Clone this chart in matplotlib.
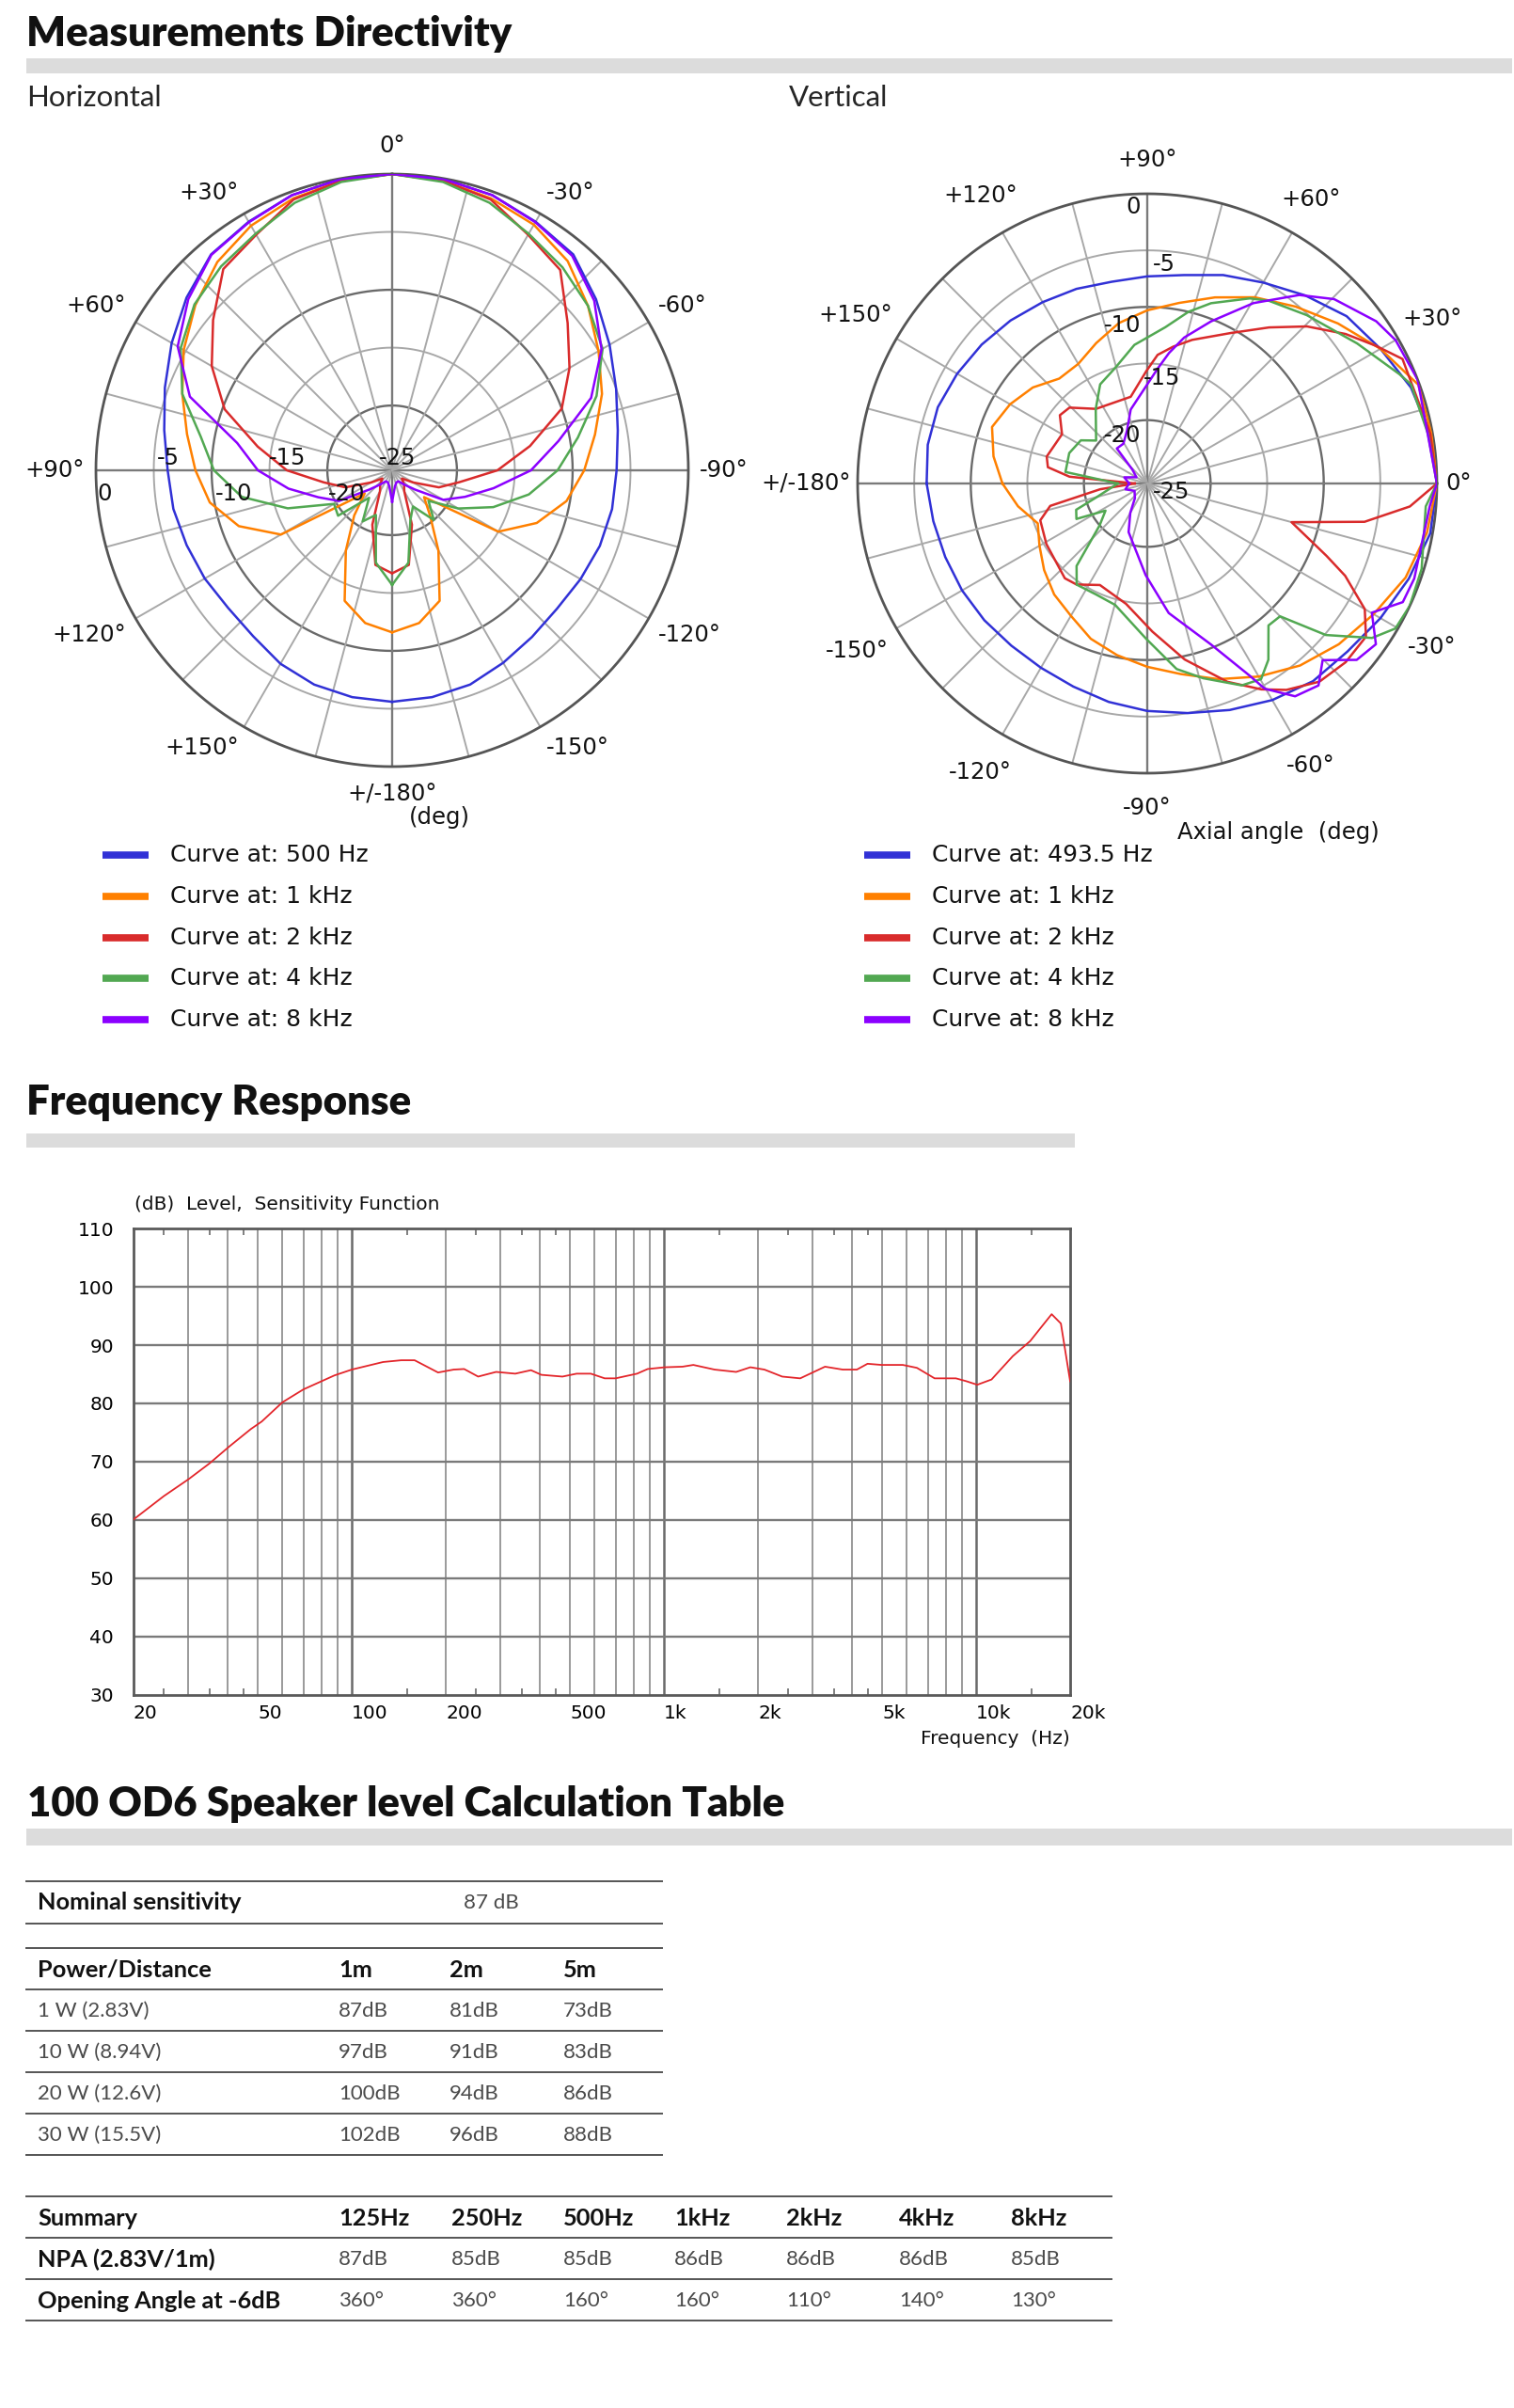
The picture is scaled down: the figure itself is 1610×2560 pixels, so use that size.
import numpy as np
import matplotlib.pyplot as plt
from matplotlib.lines import Line2D
from matplotlib.patches import Rectangle
from matplotlib.ticker import NullFormatter

W, H = 1610, 2560
fig = plt.figure(figsize=(W / 100, H / 100), dpi=100)
fig.patch.set_facecolor("white")


def fx(x):
    return x / W


def fy(y):
    return 1 - y / H


# ---------------- data ----------------
curve_colors = ["#3131d6", "#ff8000", "#d92b2b", "#52a852", "#8b00ff"]
labels_h = ["Curve at: 500 Hz", "Curve at: 1 kHz", "Curve at: 2 kHz",
            "Curve at: 4 kHz", "Curve at: 8 kHz"]
labels_v = ["Curve at: 493.5 Hz", "Curve at: 1 kHz", "Curve at: 2 kHz",
            "Curve at: 4 kHz", "Curve at: 8 kHz"]

# horizontal directivity, angle in deg (+ = left), level in dB
h_angles = [-180, -170, -160, -150, -140, -130, -120, -110, -100, -90, -80, -70,
            -60, -50, -40, -30, -20, -10, 0, 10, 20, 30, 40, 50, 60, 70, 80, 90,
            100, 110, 120, 130, 140, 150, 160, 170, 180]
h_500 = [-5.6, -5.7, -5.9, -6.4, -6.8, -7.0, -6.8, -6.5, -6.3, -6.2, -5.8, -5.0,
         -3.9, -2.6, -1.25, -0.8, -0.3, -0.05, 0.0, -0.05, -0.3, -0.8, -1.25, -2.4,
         -3.6, -4.7, -5.6, -6.2, -6.4, -6.7, -6.9, -7.1, -6.9, -6.3, -5.9, -5.7, -5.6]
h_1k = [-11.6, -12.2, -13.6, -17.6, -20.5, -22.0, -15.0, -12.3, -10.3, -9.0, -7.8, -6.3,
        -5.0, -3.5, -2.0, -1.1, -0.6, -0.2, 0.0, -0.2, -0.6, -1.2, -2.1, -3.4,
        -4.8, -6.3, -7.6, -8.6, -9.6, -11.5, -14.5, -22.5, -20.5, -17.6, -13.6, -12.2, -11.6]
h_2k = [-16.7, -17.3, -20.6, -23.5, -24.0, -24.5, -23.5, -21.3, -19.7, -16.5, -13.5, -10.0,
        -7.9, -5.8, -3.0, -2.1, -0.7, -0.2, 0.0, -0.2, -0.7, -2.1, -2.9, -5.4,
        -7.6, -10.2, -13.8, -16.5, -19.6, -21.3, -23.5, -24.5, -24.0, -23.5, -20.6, -17.3, -16.7]
h_4k = [-15.7, -17.5, -21.0, -22.0, -20.0, -21.5, -19.0, -16.3, -13.6, -11.3, -9.3, -6.8,
        -4.6, -3.5, -2.7, -2.0, -1.0, -0.3, 0.0, -0.3, -1.0, -2.0, -2.6, -3.3,
        -4.5, -6.3, -8.8, -10.2, -12.4, -16.0, -19.8, -19.5, -22.5, -20.5, -21.5, -17.5, -15.7]
h_8k = [-22.9, -24.2, -24.5, -24.5, -24.0, -23.0, -20.5, -18.9, -16.7, -13.6, -11.0, -7.3,
        -4.7, -2.8, -1.4, -0.85, -0.3, -0.05, 0.0, -0.05, -0.3, -0.85, -1.3, -2.6,
        -4.2, -7.0, -12.0, -14.0, -16.5, -18.8, -20.3, -23.0, -24.0, -24.5, -24.5, -24.2, -22.9]
h_curves = [h_500, h_1k, h_2k, h_4k, h_8k]

# vertical directivity, angle in deg (0 = axis, +90 = up), level in dB
v_ang_500 = h_angles
v_500 = [-6.1, -6.4, -6.6, -6.7, -6.8, -6.9, -6.8, -6.5, -6.0, -5.5, -5.0, -4.3,
         -3.5, -2.8, -2.5, -1.8, -1.0, -0.2, 0.0, -0.2, -0.8, -1.8, -2.6, -3.9,
         -5.1, -6.0, -6.9, -7.3, -7.5, -7.3, -7.1, -6.8, -6.5, -6.2, -5.9, -5.9, -6.1]
v_ang_1k = h_angles
v_1k = [-12.8, -14.0, -15.3, -14.6, -13.7, -12.8, -12.1, -11.0, -10.2, -9.4, -8.5, -7.2,
        -5.9, -4.6, -3.5, -2.5, -1.3, -0.5, 0.0, -0.1, -0.1, -1.8, -3.6, -5.2,
        -6.6, -8.1, -9.4, -10.3, -11.2, -12.4, -13.4, -13.5, -12.4, -11.6, -11.0, -11.8, -12.8]
v_ang_2k = [-180, -173, -167, -161, -149, -131, -125, -115, -100, -88, -78, -68, -61, -56,
            -49, -42, -35, -30, -25, -22, -15, -10, -5, 0, 10, 26, 31, 37, 44.5, 52, 61,
            72.6, 79.3, 85.4, 90.6, 100.8, 124.5, 135.7, 142, 150, 165, 170.7, 175, 180]
v_2k = [-24.5, -21.4, -16.8, -15.6, -15.2, -14.5, -14.7, -15.7, -14.8, -12.5, -9.7, -6.7,
        -4.8, -3.6, -2.4, -2.0, -2.0, -3.4, -6.3, -8.5, -12.4, -6.1, -2.3, 0.0, -0.2,
        -0.5, -2.0, -3.65, -5.8, -8.1, -10.4, -12.3, -13.3, -14.2, -15.7, -17.8, -17.6,
        -16.0, -15.8, -16.9, -16.4, -16.7, -18.7, -24.5]
v_ang_4k = [-180, -165, -159.7, -153.4, -147, -138.7, -130.6, -124.9, -114.9, -104.8, -90.5,
            -81, -74, -64.9, -59.8, -55.5, -49.5, -45, -40.3, -34.5, -30.3, -25, -17.3,
            -4.7, 0, 10, 20.6, 23.4, 33.7, 46.5, 56.3, 61, 70.5, 76.5, 83.4, 95.3, 105.5,
            115.4, 124.7, 140, 147, 158.7, 172, 180]
v_4k = [-23.0, -21.0, -18.9, -18.6, -21.2, -20.0, -16.0, -14.7, -14.8, -14.5, -11.9,
        -9.0, -7.7, -5.9, -5.6, -6.7, -9.1, -9.0, -4.9, -1.5, -0.2, 0.0, -0.2,
        -0.9, 0.0, -0.4, -0.7, -1.3, -3.3, -5.1, -6.2, -6.9, -8.7, -10.0, -11.7, -13.3, -15.0,
        -15.9, -17.6, -19.7, -18.6, -18.2, -18.3, -23.0]
v_ang_8k = [-180, -165, -150, -130, -120, -111, -91, -80.6, -68.4, -62, -60.2, -55.2, -49.7,
            -45.2, -40.1, -35.1, -29.9, -24.9, -19.6, -4.6, 0, 21, 30, 35.3, 44.6, 51.1,
            59.5, 68.5, 75.8, 80.5, 84.8, 102.6, 111, 121, 131, 137, 150, 165, 180]
v_8k = [-24.0, -23.6, -24.3, -23.9, -22.6, -21.0, -17.5, -14.0, -10.3, -6.4, -4.7, -2.7, -2.2,
        -3.6, -1.4, -0.9, -2.7, -0.7, -0.55, -0.55, 0.0, 0.0, -0.26, -0.8, -2.4, -4.2,
        -7.1, -10.2, -12.3, -13.9, -15.4, -18.9, -20.6, -21.5, -21.5, -23.8, -24.5, -23.5, -24.0]
v_curves = [(v_ang_500, v_500), (v_ang_1k, v_1k), (v_ang_2k, v_2k),
            (v_ang_4k, v_4k), (v_ang_8k, v_8k)]

# frequency response
freq_hz = [20, 25, 30, 35, 40.5, 47.5, 51.5, 60, 70, 88, 100, 126, 144, 159, 189, 212,
           229, 254, 290, 334, 375, 405, 473, 525, 583, 646, 700, 820, 887, 1007, 1147,
           1242, 1453, 1703, 1891, 2098, 2392, 2732, 3280, 3739, 4148, 4488, 4978, 5822,
           6460, 7360, 8610, 9310, 10080, 11200, 13100, 14900, 16120, 17450, 18680, 20000]
level_db = [60.1, 64.1, 67.0, 69.7, 72.6, 75.6, 76.9, 80.2, 82.4, 84.8, 85.8, 87.1, 87.4,
            87.4, 85.3, 85.8, 85.9, 84.6, 85.4, 85.1, 85.7, 84.9, 84.6, 85.1, 85.1, 84.3,
            84.3, 85.1, 85.9, 86.2, 86.3, 86.6, 85.8, 85.4, 86.2, 85.8, 84.6, 84.3, 86.3,
            85.8, 85.8, 86.8, 86.6, 86.6, 86.1, 84.3, 84.3, 83.8, 83.2, 84.1, 88.1, 90.7,
            93.0, 95.3, 93.7, 83.8]
freq_ticks = [20, 50, 100, 200, 500, 1000, 2000, 5000, 10000, 20000]
freq_tick_labels = ["20", "50", "100", "200", "500", "1k", "2k", "5k", "10k", "20k"]
freq_grid = [30, 40, 50, 60, 70, 80, 90, 200, 300, 400, 500, 600, 700, 800, 900,
             2000, 3000, 4000, 5000, 6000, 7000, 8000, 9000]
freq_grid_decade = [100, 1000, 10000]
freq_minor = [25, 35, 45, 150, 250, 350, 450, 1500, 2500, 3500, 4500, 15000]

# tables
sens_label, sens_value = "Nominal sensitivity", "87 dB"
dist_header = ["Power/Distance", "1m", "2m", "5m"]
power_rows = ["1 W (2.83V)", "10 W (8.94V)", "20 W (12.6V)", "30 W (15.5V)"]
spl_1m = ["87dB", "97dB", "100dB", "102dB"]
spl_2m = ["81dB", "91dB", "94dB", "96dB"]
spl_5m = ["73dB", "83dB", "86dB", "88dB"]
summary_header = ["Summary", "125Hz", "250Hz", "500Hz", "1kHz", "2kHz", "4kHz", "8kHz"]
npa_row = ["NPA (2.83V/1m)", "87dB", "85dB", "85dB", "86dB", "86dB", "86dB", "85dB"]
angle_row = ["Opening Angle at -6dB", "360°", "360°", "160°", "160°", "110°", "140°", "130°"]

angle_pos = [0, 30, 60, 90, 120, 150, 180, -150, -120, -90, -60, -30]
angle_txt = ["0°", "+30°", "+60°", "+90°", "+120°", "+150°", "+/-180°",
             "-150°", "-120°", "-90°", "-60°", "-30°"]

# ---------------- styles ----------------
TITLE = dict(family="Lato", weight="heavy", size=31.5, color="#111111")
SUB = dict(family="Lato", weight="normal", size=22.5, color="#262626")
PLAB = dict(family="DejaVu Sans", size=17.5, color="#111111")
TB_HEAD = dict(family="Lato", weight="bold", size=18.3, color="#111111")
TB_VAL = dict(family="Lato", weight="normal", size=16, color="#4a4a4a")
RMIN = -25.6


def gray_bar(x0, x1, y0, y1):
    fig.add_artist(Rectangle((fx(x0), fy(y1)), fx(x1) - fx(x0), fy(y0) - fy(y1),
                             transform=fig.transFigure, color="#dcdcdc", lw=0))


def hline(x0, x1, y, color="#555555", lw=1.4):
    fig.add_artist(Line2D([fx(x0), fx(x1)], [fy(y), fy(y)], transform=fig.transFigure,
                          color=color, lw=lw))


def polar_panel(cx, cy, R, zero):
    ax = fig.add_axes([fx(cx - R), fy(cy + R), 2 * R / W, 2 * R / H], projection="polar")
    ax.set_theta_zero_location(zero)
    ax.set_theta_direction(1)
    ax.set_ylim(RMIN, 0)
    ax.grid(False)
    ax.set_xticks([])
    ax.set_yticks([])
    ax.spines["polar"].set_visible(False)
    tt = np.linspace(0, 2 * np.pi, 721)
    for ring in [-20, -15, -10, -5]:
        dark = ring in (-20, -10)
        ax.plot(tt, np.full_like(tt, ring), color="#6a6a6a" if dark else "#a8a8a8",
                lw=1.7 if dark else 1.4, zorder=1)
    for a in range(0, 360, 15):
        major = a % 90 == 0
        ax.plot([np.deg2rad(a)] * 2, [RMIN, 0], color="#7a7a7a" if major else "#a8a8a8",
                lw=1.7 if major else 1.4, zorder=1)
    ax.plot(tt, np.zeros_like(tt), color="#555555", lw=2.0, zorder=1, clip_on=False)
    return ax


# ---------------- section titles ----------------
fig.text(fx(28), fy(36), "Measurements Directivity", ha="left", va="center", **TITLE)
gray_bar(28, 1608, 62, 78)
fig.text(fx(28), fy(104), "Horizontal", ha="left", va="center", **SUB)
fig.text(fx(839), fy(104), "Vertical", ha="left", va="center", **SUB)

# ---------------- horizontal polar ----------------
axh = polar_panel(417, 500, 315, "N")
for vals, c in zip(h_curves, curve_colors):
    axh.plot(np.deg2rad(h_angles), vals, color=c, lw=1.8, zorder=3)
# labels hang off the rim: aligned away from the circle
for a, t in zip(angle_pos, angle_txt):
    s, c = -np.sin(np.deg2rad(a)), np.cos(np.deg2rad(a))
    ha = "center" if abs(s) < 0.2 else ("left" if s > 0 else "right")
    va = "center" if abs(c) < 0.2 else ("bottom" if c > 0 else "top")
    gap = 18 if abs(c) > 0.95 else 12
    axh.annotate(t, (np.deg2rad(a), 0), xytext=(gap * s, gap * c),
                 textcoords="offset pixels", ha=ha, va=va, annotation_clip=False, **PLAB)
for ring, dx, dy in [(0, 1, -25), (-5, 3, 13), (-10, 4, -25), (-15, -1, 13),
                     (-20, 1, -25), (-25, -7, 13)]:
    axh.annotate(str(ring), (np.deg2rad(90), ring), xytext=(dx, dy),
                 textcoords="offset pixels", ha="left", va="center", **PLAB)
fig.text(fx(467), fy(869), "(deg)", ha="center", va="center", **PLAB)

# ---------------- vertical polar ----------------
axv = polar_panel(1220, 514, 308, "E")
for (ang, vals), c in zip(v_curves, curve_colors):
    axv.plot(np.deg2rad(ang), vals, color=c, lw=1.8, zorder=3)
for a, t, r in zip(angle_pos, angle_txt,
                   [1.9, 3.5, 3.4, 3.0, 3.8, 4.2, 4.6, 4.0, 3.9, 3.1, 3.2, 3.4]):
    axv.text(np.deg2rad(a), r, t, ha="center", va="center", clip_on=False, **PLAB)
for ring, dx, dy, ha in [(0, -7, -14, "right"), (-5, 6, -15, "left"), (-10, -7, -20, "right"),
                         (-15, -4, -16, "left"), (-20, -7, -16, "right"), (-25, 6, -16, "left")]:
    axv.annotate(str(ring), (np.deg2rad(90), ring), xytext=(dx, dy),
                 textcoords="offset pixels", ha=ha, va="center", **PLAB)
fig.text(fx(1359), fy(885), "Axial angle  (deg)", ha="center", va="center", **PLAB)

# ---------------- legends ----------------
for i, (c, lh, lv) in enumerate(zip(curve_colors, labels_h, labels_v)):
    y = 909 + 43.8 * i
    fig.add_artist(Line2D([fx(109), fx(158)], [fy(y), fy(y)], transform=fig.transFigure,
                          color=c, lw=5.5, solid_capstyle="butt"))
    fig.text(fx(181), fy(y), lh, ha="left", va="center", family="DejaVu Sans", size=18,
             color="#111111")
    fig.add_artist(Line2D([fx(919), fx(968)], [fy(y), fy(y)], transform=fig.transFigure,
                          color=c, lw=5.5, solid_capstyle="butt"))
    fig.text(fx(991), fy(y), lv, ha="left", va="center", family="DejaVu Sans", size=18,
             color="#111111")

# ---------------- frequency response ----------------
fig.text(fx(28), fy(1172), "Frequency Response", ha="left", va="center", **TITLE)
gray_bar(28, 1143, 1205, 1220)

axf = fig.add_axes([fx(142), fy(1802), (1138 - 142) / W, (1802 - 1306) / H])
axf.set_xscale("log")
for f in freq_grid:
    axf.axvline(f, color="#9a9a9a", lw=1.4, zorder=1)
for f in freq_grid_decade:
    axf.axvline(f, color="#6a6a6a", lw=1.8, zorder=1)
for lv in range(40, 110, 10):
    axf.axhline(lv, color="#7a7a7a", lw=1.7, zorder=1)
axf.plot(freq_hz, level_db, color="#e3262b", lw=1.3, zorder=3)
axf.set_xlim(20, 20000)
axf.set_ylim(30, 110)
axf.set_yticks(range(30, 111, 10))
axf.set_xticks(freq_ticks, freq_tick_labels)
axf.set_xticks(freq_minor, minor=True)
axf.xaxis.set_minor_formatter(NullFormatter())
axf.tick_params(axis="x", which="major", length=0, pad=7, labelsize=14.5)
axf.tick_params(axis="x", which="minor", length=5, width=1.2, direction="in",
                top=True, bottom=True, color="#6a6a6a")
axf.tick_params(axis="y", length=0, pad=15, labelsize=14.5)
for lbl in axf.get_xticklabels():
    lbl.set_ha("left")
for sp in axf.spines.values():
    sp.set_color("#5a5a5a")
    sp.set_linewidth(2.0)
fig.text(fx(143), fy(1281), "(dB)  Level,  Sensitivity Function", ha="left", va="center",
         family="DejaVu Sans", size=14.5, color="#111111")
fig.text(fx(1138), fy(1848), "Frequency  (Hz)", ha="right", va="center",
         family="DejaVu Sans", size=14.5, color="#111111")

# ---------------- calculation table ----------------
fig.text(fx(29), fy(1918), "100 OD6 Speaker level Calculation Table", ha="left",
         va="center", **TITLE)
gray_bar(28, 1608, 1944, 1962)

for y in [2000, 2045]:
    hline(28, 704, y)
fig.text(fx(40), fy(2023), sens_label, ha="left", va="center", **TB_HEAD)
fig.text(fx(493), fy(2023), sens_value, ha="left", va="center", **TB_VAL)

col_x = [40, 360, 478, 599]
for y in [2071, 2115, 2159, 2203, 2247, 2291]:
    hline(28, 704, y)
for x, t in zip(col_x, dist_header):
    fig.text(fx(x), fy(2094), t, ha="left", va="center", **TB_HEAD)
for i, row in enumerate(zip(power_rows, spl_1m, spl_2m, spl_5m)):
    y = 2138 + 44 * i
    for x, t in zip(col_x, row):
        fig.text(fx(x), fy(y), t, ha="left", va="center", **TB_VAL)

sum_x = [40, 360, 480, 599, 717, 836, 956, 1075]
for y in [2335, 2379, 2423, 2467]:
    hline(28, 1182, y)
for x, t in zip(sum_x, summary_header):
    fig.text(fx(x), fy(2358), t, ha="left", va="center", **TB_HEAD)
for j, row in enumerate([npa_row, angle_row]):
    y = 2402 + 44 * j
    for k, (x, t) in enumerate(zip(sum_x, row)):
        style = TB_HEAD if k == 0 else TB_VAL
        fig.text(fx(x), fy(y), t, ha="left", va="center", **style)

fig.savefig("out.png", dpi=100, facecolor="white")
